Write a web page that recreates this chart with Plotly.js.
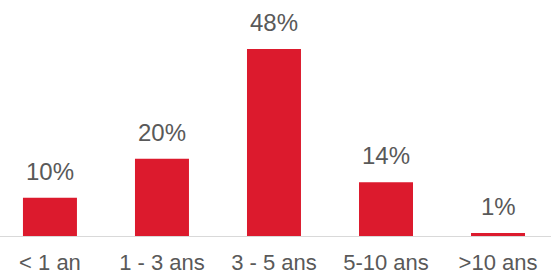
<!DOCTYPE html>
<html><head><meta charset="utf-8">
<script src="https://cdn.plot.ly/plotly-3.0.1.min.js"></script>
<style>html,body{margin:0;padding:0;background:#fff}#c{width:551px;height:277px}</style>
</head><body><div id="c"></div>
<script>
const categories = ["< 1 an", "1 - 3 ans", "3 - 5 ans", "5-10 ans", ">10 ans"];
const values = [10, 20, 48, 14, 1];
const valueLabels = ["10%", "20%", "48%", "14%", "1%"];

const idx = categories.map((_, i) => i);
const trace = {
  type: "bar", x: idx, y: values, width: 0.482,
  marker: {color: "#DC1A2D", line: {width: 0}},
  hoverinfo: "none"
};
const annotations = idx.map(i => ({
  x: i, y: values[i], text: valueLabels[i], showarrow: false,
  xref: "x", yref: "y", yanchor: "bottom", yshift: 11,
  font: {family: "Liberation Sans, Arial, sans-serif", size: 24, color: "#595959"}
}));
const layout = {
  width: 551, height: 277,
  margin: {l: 0, r: 0, t: 0, b: 40},
  paper_bgcolor: "#fff", plot_bgcolor: "#fff",
  showlegend: false,
  xaxis: {
    range: [-0.446, 4.473], tickvals: idx, ticktext: categories,
    showgrid: false, zeroline: false, showline: false, ticks: "",
    tickfont: {family: "Liberation Sans, Arial, sans-serif", size: 22, color: "#595959"},
    ticklabelstandoff: 10, fixedrange: true
  },
  yaxis: {
    range: [0, 60.5], visible: false, fixedrange: true
  },
  shapes: [{type: "line", xref: "paper", yref: "y", x0: 0, x1: 1, y0: 0, y1: 0,
            line: {color: "#D9D9D9", width: 2}}],
  annotations: annotations
};
Plotly.newPlot("c", [trace], layout, {staticPlot: true, displayModeBar: false});
</script></body></html>
